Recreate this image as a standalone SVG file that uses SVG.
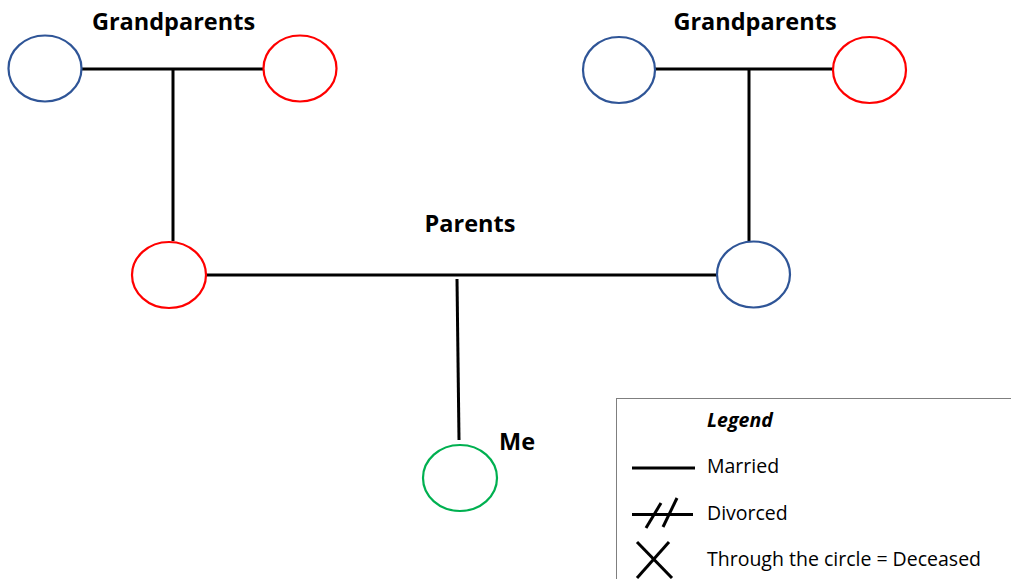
<svg xmlns="http://www.w3.org/2000/svg" width="1011" height="579" viewBox="0 0 1011 579">
<style>
.t{font-family:"Open Sans","Liberation Sans",Arial,sans-serif;font-weight:bold;font-size:23.5px;fill:#000}
.l{font-family:"Open Sans","Liberation Sans",Arial,sans-serif;font-size:19.5px;fill:#000}
.ln{stroke:#000;stroke-width:3;fill:none}
.m{fill:#fff;stroke-width:2.2}
.blue{stroke:#2f5597}
.red{stroke:#ff0000}
.green{stroke:#00b050}
</style>
<rect width="1011" height="579" fill="#fff"/>
<g id="connectors">
<line class="ln" x1="82" y1="69" x2="263" y2="69"/>
<line class="ln" x1="173" y1="69" x2="173" y2="241"/>
<line class="ln" x1="655" y1="69" x2="833" y2="69"/>
<line class="ln" x1="749" y1="69" x2="749" y2="241"/>
<line class="ln" x1="206" y1="275" x2="717" y2="275"/>
<line class="ln" x1="457" y1="279" x2="459" y2="440"/>
</g>
<g id="gp-left-m"><ellipse class="m blue" cx="45" cy="68.5" rx="36.5" ry="33"/></g>
<g id="gp-left-f"><ellipse class="m red" cx="300" cy="68.5" rx="36.5" ry="33"/></g>
<g id="gp-right-m"><ellipse class="m blue" cx="619" cy="70" rx="36" ry="33"/></g>
<g id="gp-right-f"><ellipse class="m red" cx="869.5" cy="70" rx="36.5" ry="33"/></g>
<g id="parent-f"><ellipse class="m red" cx="169" cy="275" rx="37" ry="33"/></g>
<g id="parent-m"><ellipse class="m blue" cx="753.5" cy="274.5" rx="36.5" ry="33"/></g>
<g id="me"><ellipse class="m green" cx="460" cy="478" rx="37" ry="33"/></g>
<g id="labels">
<text class="t" x="173.5" y="30" text-anchor="middle">Grandparents</text>
<text class="t" x="755" y="30" text-anchor="middle">Grandparents</text>
<text class="t" x="470" y="232" text-anchor="middle">Parents</text>
<text class="t" x="499" y="450">Me</text>
</g>
<g id="legend">
<rect x="616.5" y="398.5" width="420" height="200" fill="#fff" stroke="#7f7f7f" stroke-width="1"/>
<text class="l" x="707" y="427" font-weight="bold" font-style="italic">Legend</text>
<line class="ln" x1="632" y1="468" x2="695" y2="468"/>
<text class="l" x="707" y="473">Married</text>
<line class="ln" x1="632" y1="514.5" x2="693" y2="514.5"/>
<line class="ln" x1="646" y1="528" x2="661" y2="503"/>
<line class="ln" x1="663" y1="527" x2="677" y2="498"/>
<text class="l" x="707" y="520">Divorced</text>
<line class="ln" x1="637" y1="542" x2="672" y2="578"/>
<line class="ln" x1="637" y1="578" x2="669" y2="542"/>
<text class="l" x="707" y="566">Through the circle = Deceased</text>
</g>
</svg>
